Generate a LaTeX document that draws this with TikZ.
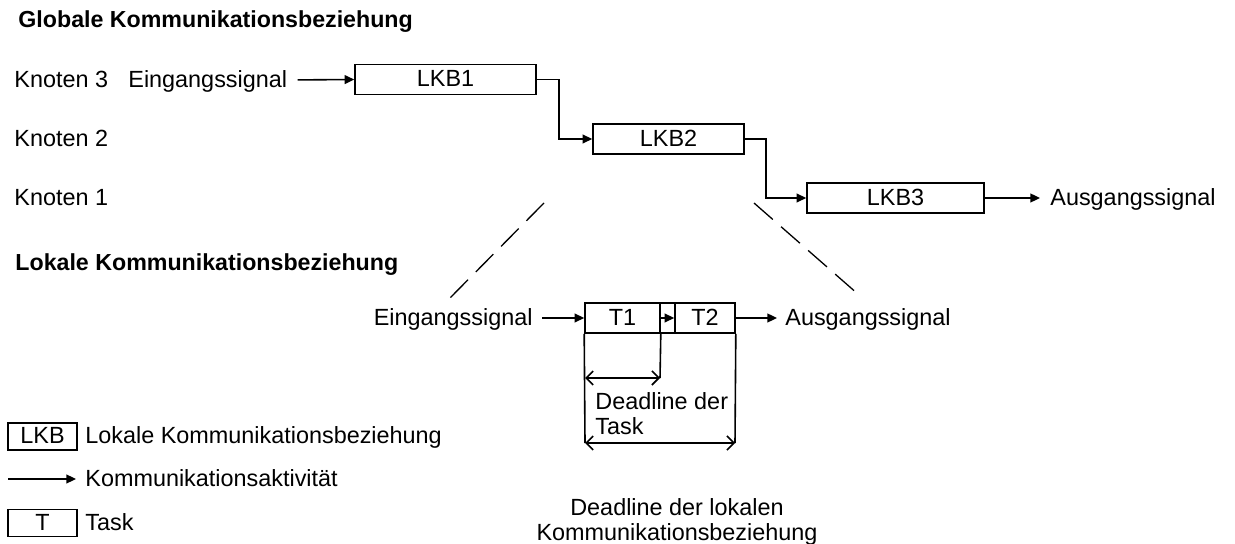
\documentclass[tikz,border=0pt]{standalone}
\usepackage{fontspec}
\setmainfont{Liberation Sans}
\usetikzlibrary{arrows.meta}

\tikzset{
  lbl/.style={inner sep=0pt, text height=0.716em, text depth=0pt},
  head/.style={lbl, font=\fontsize{11.6}{13}\selectfont\bfseries, anchor=west},
  blk/.style={draw, line width=0.8pt, inner sep=0pt, minimum height=15pt,
              text height=0.716em, text depth=0pt},
  flow/.style={line width=0.8pt, -{Triangle[length=4.8pt,width=4.4pt]}},
  span/.style={line width=0.8pt,
               {Straight Barb[length=3.5pt,width=7pt]}-{Straight Barb[length=3.5pt,width=7pt]}},
  zoomline/.style={line width=0.65pt, dash pattern=on 12.5pt off 5.5pt},
}

\begin{document}
\begin{tikzpicture}[x=0.5pt, y=-0.5pt, font=\fontsize{11.7}{12.5}\selectfont]
\useasboundingbox (0,0) rectangle (1235,544);

% ---- global communication relation ----
\node[head] (hglob) at (18,20) {Globale Kommunikationsbeziehung};

\node[lbl, anchor=west] (k3) at (14,80)  {Knoten 3};
\node[lbl, anchor=west] (k2) at (14,139) {Knoten 2};
\node[lbl, anchor=west] (k1) at (14,198) {Knoten 1};

\node[lbl, anchor=west] (inG) at (128,80) {Eingangssignal};

\node[blk, minimum width=90.5pt] (lkb1) at (445.5,79.5) {LKB1};
\node[blk, minimum width=75.5pt] (lkb2) at (668.5,139)  {LKB2};
\node[blk, minimum width=88.5pt] (lkb3) at (895.5,198)  {LKB3};

\node[lbl, anchor=west] (outG) at (1050,198) {Ausgangssignal};

\draw[flow, shorten <=5pt] (inG.east) -- (lkb1.west);
\draw[flow] (lkb1.east) -- ++(22,0) |- (lkb2.west);
\draw[flow] (lkb2.east) -- ++(21,0) |- (lkb3.west);
\draw[flow, shorten >=5pt] (lkb3.east) -- (outG.west);

% ---- zoom lines towards the local view ----
\coordinate (zl1) at (544,203);
\coordinate (zl2) at (446,302);
\coordinate (zr1) at (754,203);
\coordinate (zr2) at (859,295);
\draw[zoomline] (zl1) -- (zl2);
\draw[zoomline] (zr1) -- (zr2);

% ---- local communication relation ----
\node[head] (hloc) at (15,263) {Lokale Kommunikationsbeziehung};

\node[lbl, anchor=east] (inL) at (533,318) {Eingangssignal};

\node[blk, minimum width=37.5pt] (t1)  at (622.5,318) {T1};
\node[blk, minimum width=7.5pt]  (gap) at (667.5,318) {};
\node[blk, minimum width=30pt]   (t2)  at (705,318)   {T2};

\node[lbl, anchor=west] (outL) at (785,318) {Ausgangssignal};

\draw[flow, shorten <=4.5pt] (inL.east) -- (t1.west);
\draw[flow] (t1.east) -- (t2.west);
\draw[flow, shorten >=4pt] (t2.east) -- (outL.west);

% deadline brackets
\coordinate (d1a) at (585,378);
\coordinate (d1b) at (660,378);
\coordinate (d2a) at (585,443);
\coordinate (d2b) at (735,443);
\draw[line width=0.8pt] (t1.south west) -- (d2a);
\draw[line width=0.8pt] (t1.south east) -- (d1b);
\draw[line width=0.8pt] (t2.south east) -- (d2b);
\draw[span] (d1a) -- (d1b);
\draw[span] (d2a) -- (d2b);

\node[inner sep=0pt, anchor=north west, align=left] (dlT) at (595,392)
  {Deadline der\\Task};
\node[inner sep=0pt, anchor=north, align=center] (dlL) at (677,498)
  {Deadline der lokalen\\Kommunikationsbeziehung};

% ---- legend ----
\node[blk, minimum width=34.5pt, minimum height=13.5pt] (legB) at (42.5,436.5) {LKB};
\node[lbl, anchor=west] (legBt) at (85,436.5) {Lokale Kommunikationsbeziehung};

\coordinate (legA) at (8,479);
\node[lbl, anchor=west] (legAt) at (85,479) {Kommunikationsaktivität};
\draw[flow, shorten >=4.5pt] (legA) -- (legAt.west);

\node[blk, minimum width=34.5pt, minimum height=13.5pt] (legT) at (42.5,523) {T};
\node[lbl, anchor=west] (legTt) at (85,523) {Task};
\end{tikzpicture}
\end{document}
